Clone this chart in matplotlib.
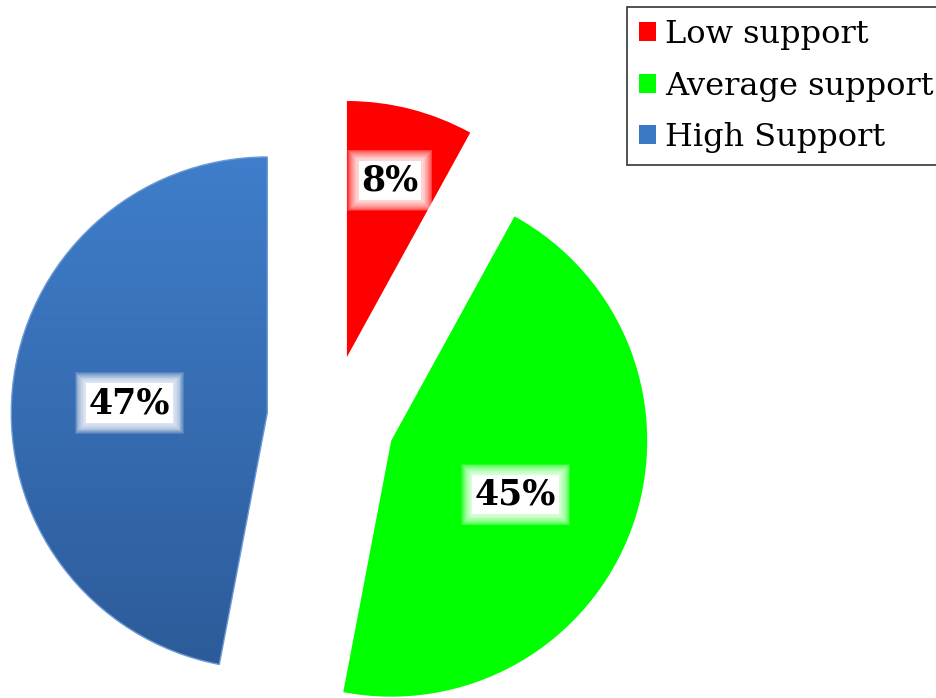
import matplotlib
matplotlib.use("Agg")
import matplotlib.pyplot as plt
import numpy as np
from matplotlib.patches import Patch
from matplotlib.colors import LinearSegmentedColormap

categories = ["Low support", "Average support", "High Support"]
values = [8, 45, 47]
labels_pct = ["8%", "45%", "47%"]
colors = ["#FF0000", "#00FF00", "#3B78C4"]

W, H = 936, 698
fig = plt.figure(figsize=(W / 100, H / 100), dpi=100)
ax = fig.add_axes([0, 0, 1, 1])

R = 256
center = (331, H - 419)
wedges, _ = ax.pie(values, colors=colors, startangle=90, counterclock=False,
                   radius=R, center=center, explode=[64, 64, 64], frame=True)
ax.set_xlim(0, W)
ax.set_ylim(0, H)
ax.set_aspect("equal")
ax.axis("off")

# gradient on blue wedge
bw = wedges[2]
bw.set_facecolor("none")
bw.set_edgecolor("#6b9ad6")
bw.set_linewidth(1.0)
grad = np.linspace(0, 1, 256).reshape(-1, 1)
cmap = LinearSegmentedColormap.from_list("b", ["#2D5B99", "#3F7ECB"])
im = ax.imshow(grad, cmap=cmap, extent=[0, W, H - 665, H - 155], origin="lower",
               aspect="auto", zorder=0.9)
im.set_clip_path(bw)
bw.set_zorder(1.1)

# percentage labels
fracs = [0.71, 0.53, 0.54]
dangs = [0.7, -3.6, 1.3]
for w, lab, f, da in zip(wedges, labels_pct, fracs, dangs):
    th = np.deg2rad((w.theta1 + w.theta2) / 2 + da)
    cx, cy = w.center
    x = cx + f * R * np.cos(th)
    y = cy + f * R * np.sin(th)
    for pad in np.linspace(0.4, 0.12, 12):
        ax.text(x, y, lab, ha="center", va="center", fontsize=25, fontweight="bold",
                family="DejaVu Serif", color="none", zorder=3,
                bbox=dict(boxstyle=f"square,pad={pad:.3f}", fc="white", ec="none", alpha=0.14))
    ax.text(x, y, lab, ha="center", va="center", fontsize=25, fontweight="bold",
            family="DejaVu Serif", color="black", zorder=4,
            bbox=dict(boxstyle="square,pad=0.08", fc="white", ec="none"))

handles = [Patch(facecolor=c, edgecolor="none") for c in ["#FF0000", "#00FF00", "#3B78C4"]]
leg = fig.legend(handles, categories, loc="upper left",
                 bbox_to_anchor=(627 / W, 1 - 7 / H), frameon=True, fancybox=False,
                 prop={"family": "DejaVu Serif", "size": 23},
                 handlelength=0.53, handleheight=0.53, handletextpad=0.28,
                 labelspacing=0.64, borderpad=0.38, borderaxespad=0)
leg.get_frame().set_edgecolor("black")
leg.get_frame().set_linewidth(1.2)

fig.savefig("out.png", dpi=100)
